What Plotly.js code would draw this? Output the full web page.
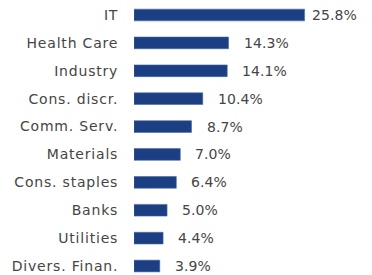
<!DOCTYPE html>
<html>
<head>
<meta charset="utf-8">
<script src="https://cdn.plot.ly/plotly-3.0.1.min.js"></script>
<style>
html,body{margin:0;padding:0;background:#fff;}
#chart{width:372px;height:275px;}
.ytick text{letter-spacing:0.8px;}
.annotation-text{letter-spacing:0.1px;}
</style>
</head>
<body>
<div id="chart"></div>
<script>
const categories = ["IT","Health Care","Industry","Cons. discr.","Comm. Serv.","Materials","Cons. staples","Banks","Utilities","Divers. Finan."];
const values = [25.8,14.3,14.1,10.4,8.7,7.0,6.4,5.0,4.4,3.9];
const valueLabels = ["25.8%","14.3%","14.1%","10.4%","8.7%","7.0%","6.4%","5.0%","4.4%","3.9%"];
const labelGaps = [5,13,13,13,13,13,13,13,13,13];

const FONT = "DejaVu Sans, sans-serif";
const TXT = "#454545";

const trace = {
  type: "bar",
  orientation: "h",
  x: values,
  y: categories,
  width: 0.42,
  marker: {color: "#1b3f82", line: {color: "#4a6aa3", width: 0.6}},
  hoverinfo: "none"
};

const annotations = categories.map((c, i) => ({
  x: values[i], y: c, xref: "x", yref: "y",
  text: valueLabels[i], showarrow: false,
  xanchor: "left", yanchor: "middle", xshift: labelGaps[i],
  font: {family: FONT, size: 14, color: TXT}
}));

const layout = {
  width: 372, height: 275,
  margin: {l: 134, r: 0, t: 0, b: 0},
  paper_bgcolor: "#ffffff", plot_bgcolor: "#ffffff",
  showlegend: false,
  xaxis: {range: [0, 36.0], visible: false, fixedrange: true},
  yaxis: {
    type: "category",
    categoryorder: "array", categoryarray: categories,
    range: [9.322, -0.538],
    showgrid: false, zeroline: false, showline: false,
    ticks: "outside", ticklen: 12, tickcolor: "rgba(0,0,0,0)",
    tickfont: {family: FONT, size: 14, color: TXT},
    fixedrange: true
  },
  annotations: annotations
};

Plotly.newPlot("chart", [trace], layout, {displayModeBar: false, staticPlot: true});
</script>
</body>
</html>
